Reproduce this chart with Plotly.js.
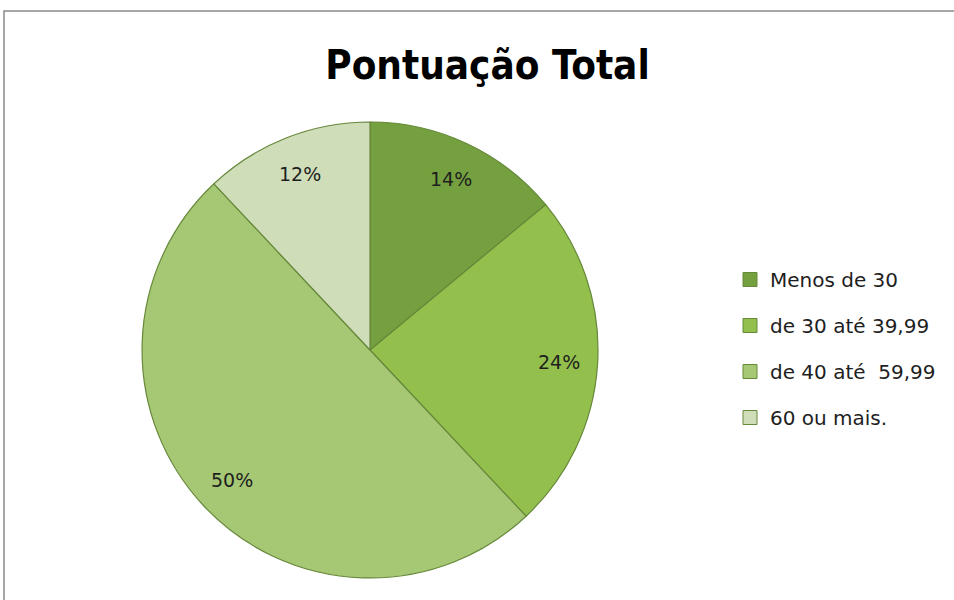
<!DOCTYPE html>
<html>
<head>
<meta charset="utf-8">
<script src="https://cdn.plot.ly/plotly-3.0.1.min.js"></script>
<style>html,body{margin:0;padding:0;background:#fff}#chart{width:954px;height:600px}</style>
</head>
<body>
<div id="chart"></div>
<script>
const categories = ["Menos de 30", "de 30 até 39,99", "de 40 até  59,99", "60 ou mais."];
const values = [14, 24, 50, 12];
const sliceColors = ["#74a03f", "#93c04d", "#a6c874", "#cfdeb9"];
const chartTitle = "Pontuação Total";

const W = 954, H = 600;
const cxPx = 370, cyPx = 350, Rpx = 228;
const dom = {
  x: [(cxPx - Rpx) / W, (cxPx + Rpx) / W],
  y: [(H - cyPx - Rpx) / H, (H - cyPx + Rpx) / H]
};

const pie = {
  type: "pie",
  labels: categories,
  values: values,
  sort: false,
  direction: "clockwise",
  rotation: 0,
  domain: dom,
  marker: { colors: sliceColors, line: { color: "#66883a", width: 1.2 } },
  textinfo: "none",
  hoverinfo: "label+percent",
  showlegend: false
};

// legend entries (one per category)
const legendTraces = categories.map((c, i) => ({
  type: "scatter", mode: "markers", x: [null], y: [null],
  name: c, legendgroup: "g" + i,
  marker: { symbol: "square", size: 14, color: sliceColors[i], line: { color: "#66883a", width: 1 } },
  hoverinfo: "skip"
}));

// percentage labels positioned from the data
const total = values.reduce((a, b) => a + b, 0);
let cum = 0;
const annotations = values.map((v) => {
  const mid = (cum + v / 2) / total * 2 * Math.PI;
  cum += v;
  const f = 0.83;
  return {
    xref: "paper", yref: "paper",
    x: (cxPx + f * Rpx * Math.sin(mid)) / W,
    y: (H - cyPx + f * Rpx * Math.cos(mid)) / H,
    xanchor: "center", yanchor: "middle",
    text: Math.round(v / total * 100) + "%",
    showarrow: false,
    font: { family: "DejaVu Sans, sans-serif", size: 19, color: "#1e1e1e" }
  };
});

const layout = {
  width: W, height: H,
  margin: { l: 0, r: 0, t: 0, b: 0 },
  paper_bgcolor: "#ffffff", plot_bgcolor: "#ffffff",
  title: {
    text: "<b>" + chartTitle + "</b>",
    x: 0.511, xanchor: "center", y: 1 - 65 / H, yanchor: "middle", yref: "paper",
    font: { family: "DejaVu Sans Condensed, DejaVu Sans, sans-serif", size: 40, color: "#000" }
  },
  xaxis: { visible: false }, yaxis: { visible: false },
  showlegend: true,
  legend: {
    x: 730 / W, xanchor: "left", y: 1 - 260 / H, yanchor: "top",
    tracegroupgap: 17,
    font: { family: "DejaVu Sans, sans-serif", size: 20, color: "#1e1e1e" },
    bgcolor: "rgba(0,0,0,0)", itemclick: false, itemdoubleclick: false
  },
  annotations: annotations,
  shapes: [{
    type: "rect", xref: "paper", yref: "paper",
    x0: 4 / W, x1: 1.05, y0: -0.05, y1: 1 - 11 / H,
    line: { color: "#8a8a8a", width: 1.5 }, fillcolor: "rgba(0,0,0,0)"
  }]
};

Plotly.newPlot("chart", [pie, ...legendTraces], layout, { displayModeBar: false, staticPlot: true });
</script>
</body>
</html>
